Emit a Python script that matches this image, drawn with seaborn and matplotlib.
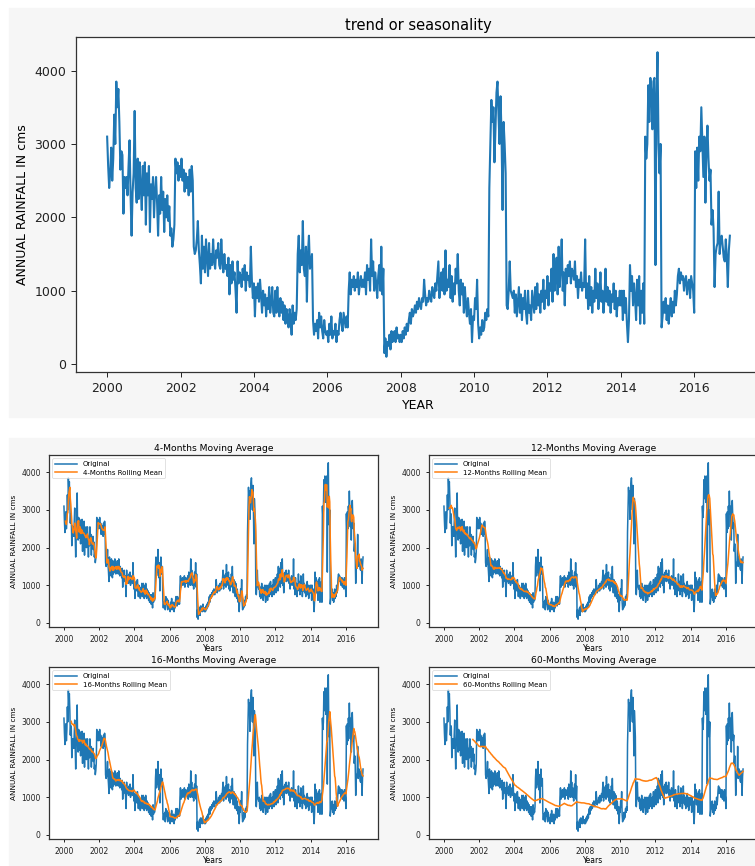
import matplotlib
matplotlib.use("Agg")
import matplotlib.pyplot as plt
from matplotlib.patches import Rectangle
from matplotlib.ticker import MultipleLocator, StrMethodFormatter
import numpy as np
import pandas as pd
import seaborn as sns

# ---- data: 36 readings per year (dekadal) ----
r2000 = [3100, 2700, 2400, 2600, 2950, 2500, 2800, 3400, 3000, 3850, 3500, 3750,
         3300, 2650, 2900, 2850, 2050, 2550, 2400, 2550, 2300, 2700, 3050, 2300,
         1750, 2350, 2600, 3450, 2400, 2200, 2800, 2250, 2750, 2400, 2100, 2700]
r2001 = [2300, 2750, 1900, 2600, 2300, 2700, 1800, 2450, 2250, 2550, 2000, 2350,
         2550, 2200, 1750, 2300, 2050, 2550, 2100, 2350, 1800, 2250, 2000, 2300,
         1950, 2150, 1750, 1850, 1600, 1700, 1900, 2800, 2600, 2750, 2500, 2700]
r2002 = [2550, 2800, 2500, 2650, 2350, 2600, 2400, 2550, 2300, 2650, 2350, 2700,
         2500, 1600, 1500, 1550, 1700, 1950, 1550, 1350, 1100, 1750, 1300, 1600,
         1250, 1700, 1450, 1200, 1650, 1300, 1500, 1350, 1700, 1400, 1300, 1550]
r2003 = [1450, 1650, 1350, 1300, 1700, 1400, 1250, 1500, 1300, 1350, 1200, 1450,
         950, 1350, 1100, 1400, 1150, 1250, 1000, 700, 1400, 1100, 1250, 1200,
         1050, 1300, 1150, 1350, 1000, 1250, 1150, 1200, 1050, 1600, 1150, 900]
r2004 = [1100, 650, 1050, 900, 1100, 850, 1150, 950, 700, 1000, 800, 950,
         650, 900, 750, 1050, 700, 850, 1050, 700, 650, 1000, 700, 1050,
         750, 650, 900, 700, 850, 600, 800, 550, 750, 650, 500, 750]
r2005 = [650, 400, 800, 550, 700, 600, 750, 1500, 1750, 1250, 1550, 1350,
         1950, 1300, 1200, 1600, 850, 1500, 1750, 1300, 1400, 1500, 600, 400,
         550, 450, 600, 350, 700, 500, 650, 450, 350, 600, 450, 400]
r2006 = [450, 300, 550, 400, 650, 350, 450, 400, 550, 300, 450, 400,
         600, 700, 550, 450, 700, 600, 500, 650, 500, 1000, 1250, 950,
         1150, 1050, 1200, 1000, 1150, 1050, 1250, 950, 1100, 1200, 1050, 1150]
r2007 = [1050, 1250, 950, 1350, 1150, 1300, 1000, 1700, 1200, 1400, 1000, 1250,
         1100, 900, 1200, 1350, 1000, 1600, 950, 1300, 150, 350, 100, 300,
         250, 400, 200, 450, 300, 350, 450, 300, 500, 350, 400, 300]
r2008 = [400, 300, 450, 350, 500, 400, 550, 450, 600, 700, 550, 750,
         650, 700, 800, 700, 850, 750, 900, 800, 750, 900, 850, 1150,
         950, 800, 900, 850, 1000, 900, 850, 1050, 950, 900, 1100, 1000]
r2009 = [1200, 1400, 900, 1100, 1250, 1000, 1300, 950, 1550, 1000, 1150, 1050,
         1350, 900, 1200, 850, 1100, 950, 1300, 1100, 1500, 1000, 800, 1150,
         950, 1100, 700, 1050, 800, 650, 900, 700, 550, 750, 300, 650]
r2010 = [600, 900, 750, 1150, 550, 350, 500, 400, 600, 450, 500, 700,
         600, 750, 650, 2400, 3000, 3600, 3300, 3500, 2750, 3200, 3700, 3850,
         3400, 3000, 3650, 3100, 2100, 3300, 3000, 2600, 800, 750, 1000, 1400]
r2011 = [1000, 950, 900, 1000, 700, 950, 650, 850, 1050, 700, 950, 600,
         900, 750, 1000, 700, 550, 1000, 700, 800, 600, 1000, 850, 700,
         1050, 750, 1100, 800, 950, 700, 1000, 850, 1150, 750, 1000, 900]
r2012 = [1200, 800, 1100, 1000, 1300, 850, 1500, 1000, 1200, 1450, 950, 1600,
         1050, 1300, 1700, 1000, 1250, 800, 1300, 1100, 1350, 1200, 1400, 1100,
         1300, 1250, 1150, 1400, 1050, 1200, 900, 1150, 1050, 1250, 1000, 1100]
r2013 = [1050, 1700, 900, 1100, 750, 1200, 800, 1050, 700, 1000, 850, 1300,
         900, 1100, 750, 950, 1250, 850, 1000, 700, 900, 1300, 850, 1050,
         800, 1000, 700, 950, 850, 1100, 750, 1000, 650, 900, 800, 1000]
r2014 = [800, 1000, 600, 1000, 700, 900, 550, 300, 600, 1350, 1000, 1200,
         800, 1100, 900, 600, 1150, 800, 1200, 550, 1000, 700, 1100, 550,
         3100, 2800, 3000, 3800, 3300, 3900, 3700, 3200, 3850, 3900, 1350, 3600]
r2015 = [4250, 3000, 2600, 3000, 500, 650, 850, 700, 900, 600, 800, 550,
         750, 900, 650, 850, 700, 1000, 800, 950, 1200, 1300, 1100, 1250,
         1150, 1200, 1000, 1150, 1200, 950, 1100, 1150, 900, 1200, 1100, 1000]
r2016 = [700, 2900, 2400, 2950, 2500, 3100, 2900, 3500, 3000, 2550, 3100, 2200,
         2900, 3250, 2800, 2500, 2650, 1900, 2100, 1850, 1050, 1500, 1600, 1650,
         2350, 1500, 1700, 1750, 1600, 1450, 1400, 1700, 1450, 1050, 1550, 1750]

years = list(range(2000, 2017))
yearly = [r2000, r2001, r2002, r2003, r2004, r2005, r2006, r2007, r2008,
          r2009, r2010, r2011, r2012, r2013, r2014, r2015, r2016]
windows = [4, 12, 16, 60]
year_ticks_step = 2
value_ticks_step = 1000

rows = []
for yr, vals in zip(years, yearly):
    for k, v in enumerate(vals):
        rows.append((yr + k / 36.0, v))
df = pd.DataFrame(rows, columns=["t", "rain"])

BLUE = "#1f77b4"
ORANGE = "#ff7f0e"
GRAY_BG = "#f6f6f6"
W, H = 755, 866

fig = plt.figure(figsize=(W / 100, H / 100), dpi=100, facecolor="white")

def fx(px):
    return px / W

def fy(py):
    return 1 - py / H

# notebook-style gray output panels
fig.patches.append(Rectangle((fx(9), fy(417)), 1, (417 - 8) / H,
                             transform=fig.transFigure, color=GRAY_BG, zorder=-10))
fig.patches.append(Rectangle((fx(9), 0), 1, fy(438),
                             transform=fig.transFigure, color=GRAY_BG, zorder=-10))

def style_axes(ax, tick_size, tick_len):
    ax.set_facecolor("white")
    for s in ax.spines.values():
        s.set_color("#333333")
        s.set_linewidth(0.9)
    ax.xaxis.set_major_locator(MultipleLocator(year_ticks_step))
    ax.xaxis.set_major_formatter(StrMethodFormatter("{x:.0f}"))
    ax.yaxis.set_major_locator(MultipleLocator(value_ticks_step))
    ax.tick_params(labelsize=tick_size, length=tick_len, width=0.7, colors="#222222")

# ---- top chart ----
ax0 = fig.add_axes([fx(76), fy(372), (761 - 76) / W, (372 - 37) / H])
sns.lineplot(data=df, x="t", y="rain", ax=ax0, color=BLUE, linewidth=1.5,
             estimator=None)
ax0.set_title("trend or seasonality", fontsize=10.5, pad=5)
ax0.set_xlabel("YEAR", fontsize=9, labelpad=3)
ax0.set_ylabel("ANNUAL RAINFALL IN cms", fontsize=9, labelpad=4)
style_axes(ax0, 9, 3.5)

# ---- rolling mean panels ----
panel_pos = [(49, 455), (429, 455), (49, 667), (429, 667)]
pw, ph = 329, 172
for (left, top), w in zip(panel_pos, windows):
    ax = fig.add_axes([fx(left), fy(top + ph), pw / W, ph / H])
    roll = df["rain"].rolling(window=w).mean()
    sns.lineplot(x=df["t"], y=df["rain"], ax=ax, color=BLUE, linewidth=1.1,
                 label="Original", estimator=None)
    sns.lineplot(x=df["t"], y=roll, ax=ax, color=ORANGE, linewidth=1.1,
                 label=f"{w}-Months Rolling Mean", estimator=None)
    ax.set_title(f"{w}-Months Moving Average", fontsize=6.6, pad=3)
    ax.set_xlabel("Years", fontsize=5.5, labelpad=0)
    ax.set_ylabel("ANNUAL RAINFALL IN cms", fontsize=5.2, labelpad=3)
    style_axes(ax, 5.5, 2.5)
    leg = ax.legend(loc="upper left", fontsize=5, handlelength=3.2,
                    borderpad=0.4, labelspacing=0.35, framealpha=0.8)
    leg.get_frame().set_linewidth(0.5)

fig.savefig("out.png", dpi=100, facecolor="white")
